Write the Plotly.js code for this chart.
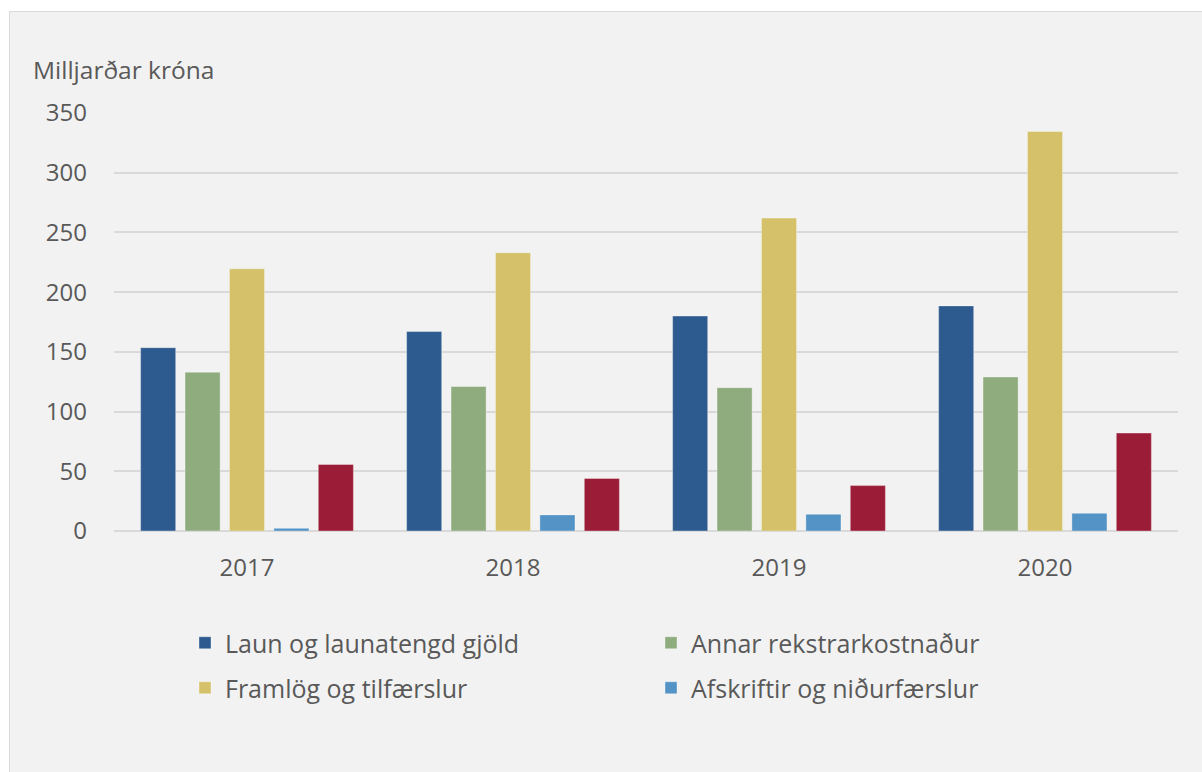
<!DOCTYPE html>
<html>
<head>
<meta charset="utf-8">
<script src="https://cdn.plot.ly/plotly-3.0.1.min.js"></script>
<style>
html,body{margin:0;padding:0;background:#ffffff;}
#panel{position:absolute;left:9px;top:11px;width:1200px;height:770px;background:#f2f2f2;border:1px solid #d9d9d9;box-sizing:border-box;}
#chart{position:absolute;left:0;top:0;width:1202px;height:772px;}
</style>
</head>
<body>
<div id="panel"></div>
<div id="chart"></div>
<script>
const years = ['2017', '2018', '2019', '2020'];
const seriesNames = ['Laun og launatengd gjöld', 'Annar rekstrarkostnaður', 'Framlög og tilfærslur', 'Afskriftir og niðurfærslur', 'Annað'];
const laun = [153.5, 167, 180, 188.5];
const annar = [133, 121, 120, 129];
const framlog = [219.5, 233, 262, 334.5];
const afskriftir = [2.2, 13.5, 14, 14.8];
const annad = [55.7, 44, 38, 82];
const yTicks = [0, 50, 100, 150, 200, 250, 300, 350];

const colors = ['#2e5b8f', '#8fac7e', '#d4c16a', '#5393c5', '#9b1c36'];
const values = [laun, annar, framlog, afskriftir, annad];
const legendIds = ['legend', 'legend', 'legend2', 'legend2', 'legend'];

const traces = values.map((v, i) => ({
  type: 'bar',
  x: years,
  y: v,
  name: seriesNames[i],
  legend: legendIds[i],
  showlegend: i < 4,
  marker: {color: colors[i], line: {color: 'rgba(255,255,255,0.35)', width: 1}},
  hoverinfo: 'x+y+name'
}));

const fam = '"Open Sans", "Noto Sans", sans-serif';
const W = 1202, H = 772;

const legendBase = {
  orientation: 'h',
  x: 185 / W, xref: 'container', xanchor: 'left',
  yref: 'container', yanchor: 'middle',
  entrywidth: 421, entrywidthmode: 'pixels',
  font: {size: 25, color: '#595959', family: fam},
  bgcolor: 'rgba(0,0,0,0)',
  itemclick: false
};

const layout = {
  width: W,
  height: H,
  paper_bgcolor: 'rgba(0,0,0,0)',
  plot_bgcolor: 'rgba(0,0,0,0)',
  margin: {l: 114, r: 24, t: 113, b: 241},
  barmode: 'group',
  bargap: 0.165,
  bargroupgap: 0.21,
  font: {family: fam, color: '#595959'},
  xaxis: {
    type: 'category',
    showgrid: false,
    showline: false,
    zeroline: false,
    ticks: '',
    ticklabelstandoff: 20,
    tickfont: {size: 24, color: '#595959'}
  },
  yaxis: {
    range: [0, 350],
    tickvals: yTicks,
    ticktext: yTicks.map(String),
    showgrid: true,
    gridcolor: '#d9d9d9',
    gridwidth: 1.5,
    zeroline: true,
    zerolinecolor: '#d9d9d9',
    zerolinewidth: 1.5,
    showline: false,
    ticks: '',
    ticklabelstandoff: 26,
    tickfont: {size: 24, color: '#595959'}
  },
  legend: Object.assign({}, legendBase, {y: 1 - 643 / H}),
  legend2: Object.assign({}, legendBase, {y: 1 - 688 / H}),
  annotations: [{
    text: 'Milljarðar króna',
    xref: 'paper', yref: 'paper',
    x: (31 - 114) / 1064, y: 1 + (113 - 70) / 418,
    xanchor: 'left', yanchor: 'middle',
    showarrow: false,
    font: {size: 24.5, color: '#595959'}
  }]
};

Plotly.newPlot('chart', traces, layout, {displayModeBar: false});
</script>
</body>
</html>
